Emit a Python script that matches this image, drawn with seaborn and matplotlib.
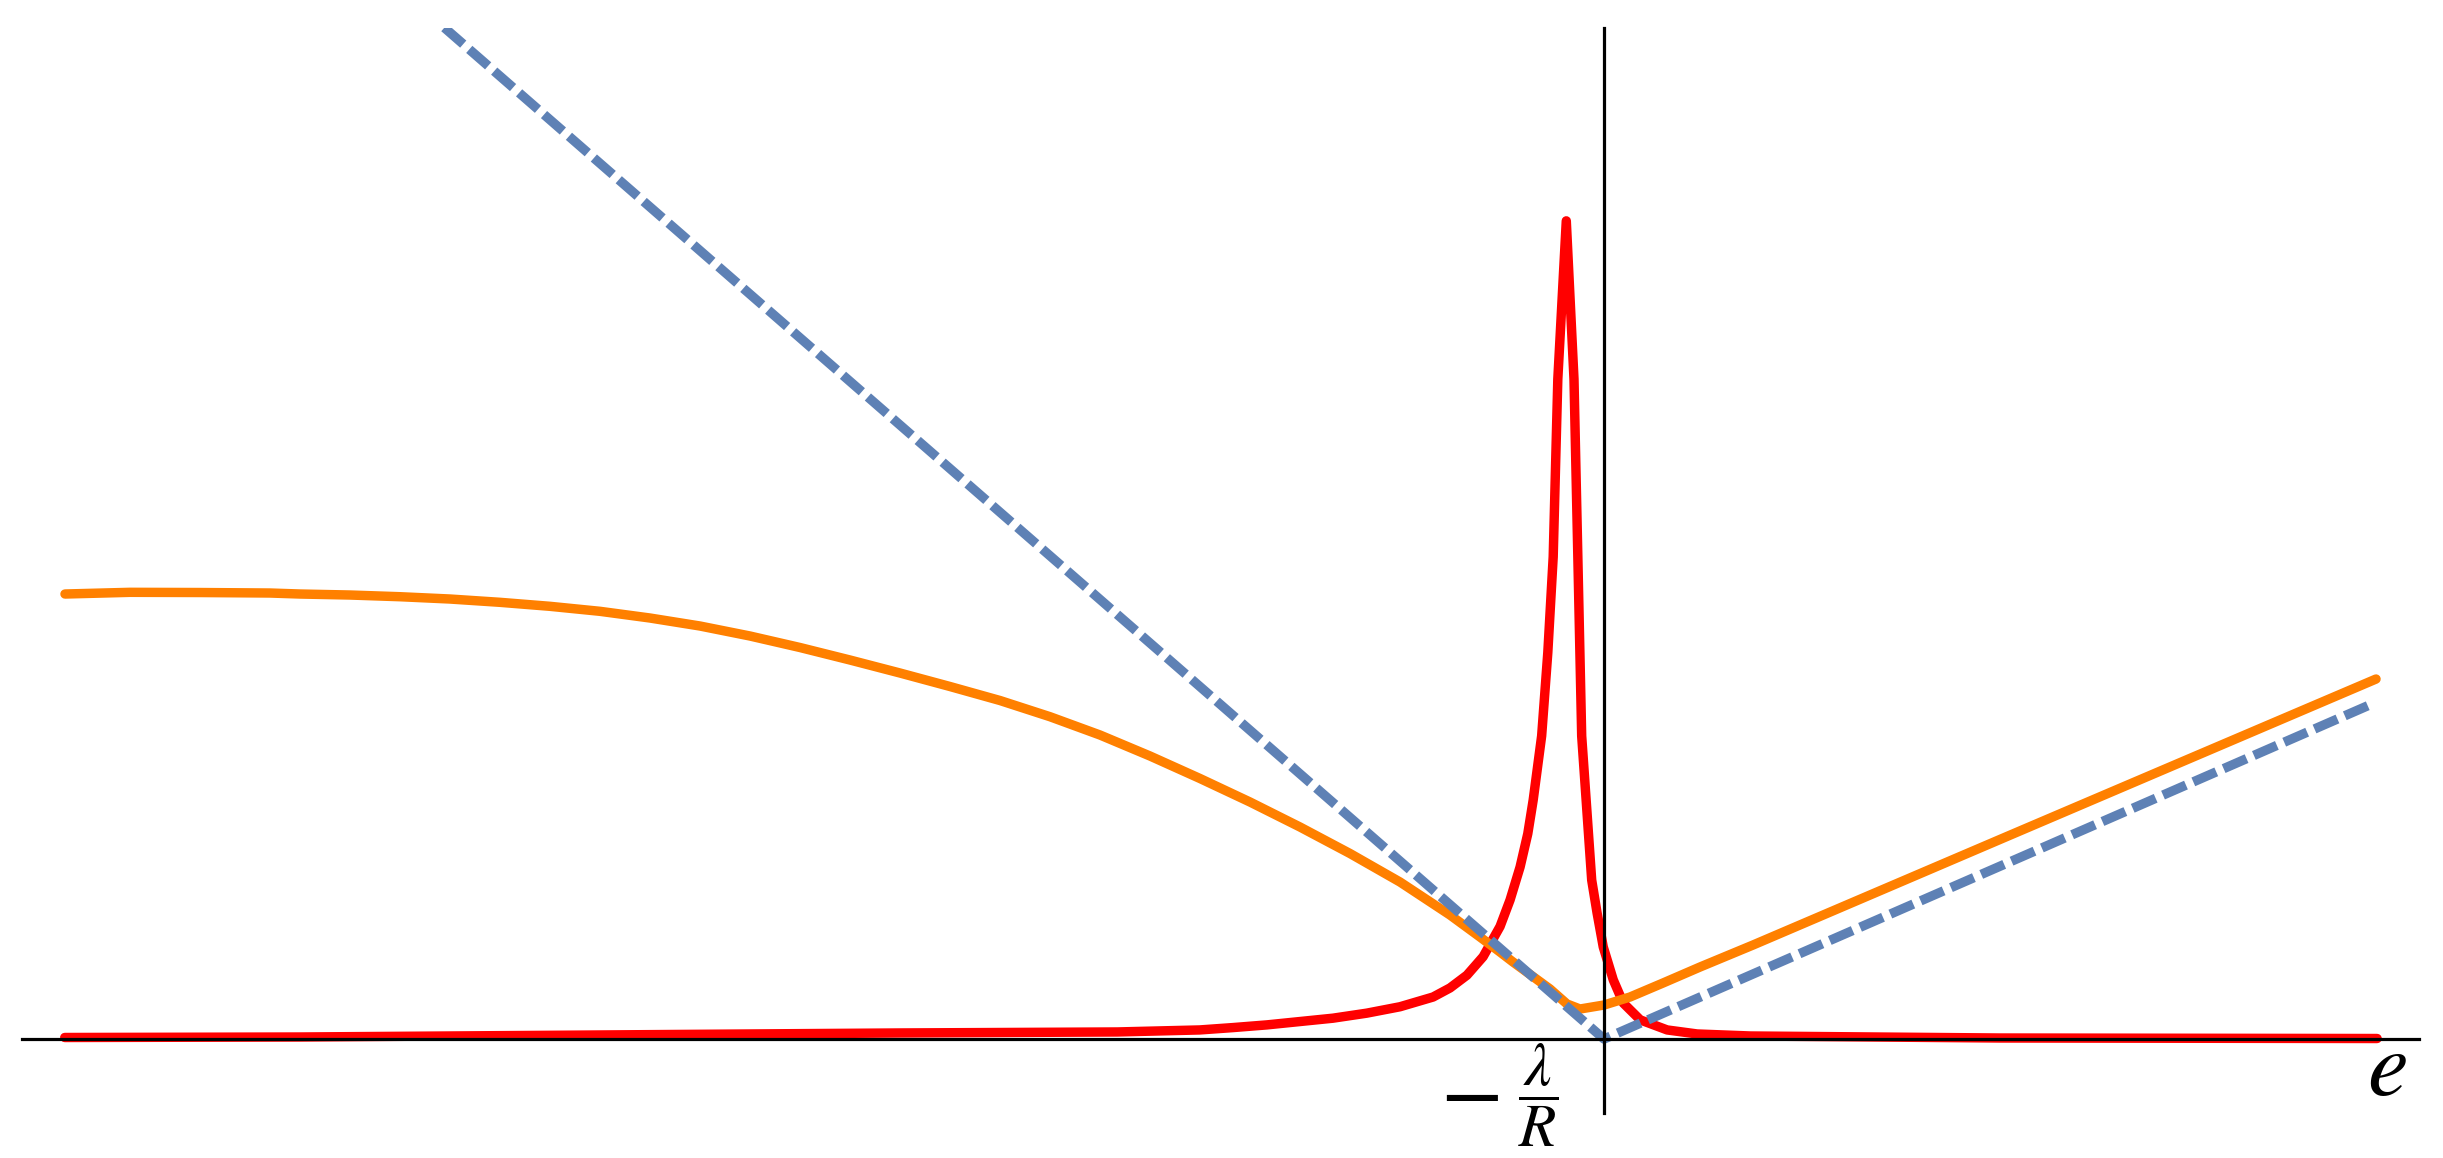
import numpy as np
import pandas as pd
import matplotlib
matplotlib.use("Agg")
import matplotlib.pyplot as plt
import seaborn as sns

# ---- data (picture pixels -> data units) ----
orange_px = [65, 130, 200, 270, 300, 350, 400, 450, 500, 550, 600, 650, 700, 750, 800,
             850, 900, 950, 1000, 1050, 1100, 1150, 1200, 1250, 1300, 1350, 1400, 1450,
             1480, 1500, 1513, 1550, 1567, 1580, 1604, 1630, 1663, 1700, 1753, 2008, 2376]
orange_py = [594, 592.3, 592.5, 593, 594, 595, 596.7, 599, 602.3, 606.3, 611.3, 618, 626, 636, 647.5,
             660, 673, 686.5, 700.5, 716.7, 735, 756, 778.5, 802, 827, 853.5, 882, 915,
             937, 952, 962, 989, 1004, 1009, 1005, 997, 983, 967, 945, 836, 679]

X0, XS, Y0, YS = 1604.0, 770.0, 1039.0, 336.0
orange_e = [(p - X0) / XS for p in orange_px]
orange_y = [(Y0 - p) / YS for p in orange_py]

red_e = [-1.999, -1.694, -1.304, -0.914, -0.632, -0.525, -0.482, -0.438, -0.395, -0.352,
         -0.308, -0.265, -0.222, -0.200, -0.178, -0.157, -0.135, -0.122, -0.109, -0.099,
         -0.092, -0.081, -0.073, -0.066, -0.060, -0.049, -0.039, -0.034, -0.029, -0.016,
         -0.009, -0.001, 0.012, 0.025, 0.047, 0.082, 0.121, 0.19, 0.514, 1.004]
red_y = [0.0045, 0.006, 0.012, 0.018, 0.021, 0.027, 0.034, 0.042, 0.052, 0.062,
         0.077, 0.096, 0.125, 0.152, 0.190, 0.245, 0.335, 0.414, 0.512, 0.611,
         0.711, 0.902, 1.150, 1.435, 1.964, 2.435, 1.964, 1.435, 0.902, 0.473,
         0.375, 0.274, 0.176, 0.107, 0.057, 0.027, 0.015, 0.009, 0.003, 0.0015]

blue_e = [-1.506, 0.0, 1.0]
blue_y = [3.01, 0.0, 1.0]

tick_minus = r"$-$"
tick_frac = r"$\dfrac{\lambda}{R}$"
axis_label = r"$e$"

# ---- styling ----
sns.set_style("white")
plt.rcParams["mathtext.fontset"] = "stix"

fig = plt.figure(figsize=(24.43, 11.58), dpi=100)
ax = fig.add_axes([0.00901, 0.03886, 0.98117, 0.93696])

lw = 6.8
sns.lineplot(x=red_e, y=red_y, color="#FF0000", linewidth=lw, ax=ax, sort=False)
sns.lineplot(x=orange_e, y=orange_y, color="#FF8000", linewidth=lw, ax=ax, sort=False)
sns.lineplot(x=blue_e, y=blue_y, color="#5E81B5", linewidth=lw, ax=ax, sort=False)
blue_line = ax.lines[-1]
blue_line.set_dashes((2.65, 0.85))
blue_line.set_dash_capstyle("butt")
for ln in ax.lines:
    ln.set_solid_joinstyle("round")

ax.set_xlim(-2.0545, 1.0584)
ax.set_ylim(-0.2202, 3.009)

for side in ["top", "right"]:
    ax.spines[side].set_visible(False)
ax.spines["left"].set_position(("data", 0))
ax.spines["bottom"].set_position(("data", 0))
for side in ["left", "bottom"]:
    ax.spines[side].set_color("black")
    ax.spines[side].set_linewidth(2.3)
    ax.spines[side].set_zorder(5)
ax.set_xticks([])
ax.set_yticks([])
ax.set_xlabel("")
ax.set_ylabel("")
ax.grid(False)

ax.text(-0.1747, -0.1619, tick_minus, ha="center", va="center", fontsize=66, color="black")
ax.text(-0.0857, -0.1667, tick_frac, ha="center", va="center", fontsize=44, color="black")
ax.text(1.0169, -0.089, axis_label, ha="center", va="center", fontsize=66, color="black")

fig.savefig("out.png", dpi=100, facecolor="white")
